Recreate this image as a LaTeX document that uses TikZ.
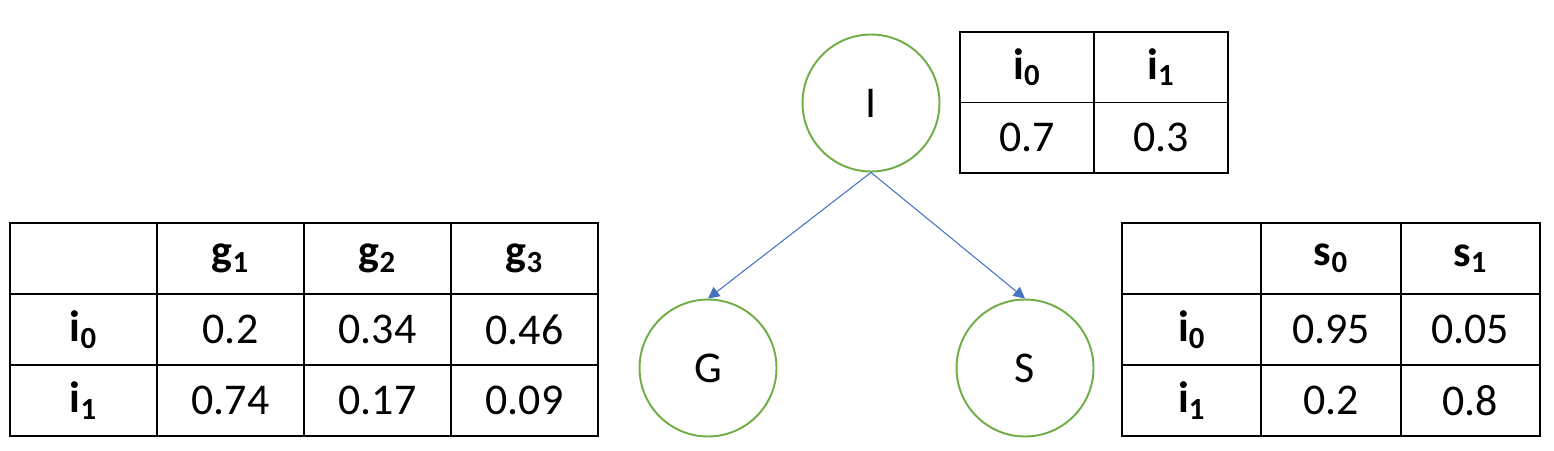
\documentclass[tikz,border=0pt]{standalone}
\usepackage{fontspec}
\setmainfont{Carlito}
\usetikzlibrary{arrows.meta}
\definecolor{nodegreen}{HTML}{70AD47}
\definecolor{edgeblue}{HTML}{4472C4}
\newcommand\BoldSub[2]{\textbf{#1\textsubscript{#2}}}
\tikzset{%
  >={Triangle[length=6.5pt,width=6.5pt]}, % arrow tips
  every node/.style={font=\fontsize{25}{30}\selectfont},%
  var node/.style={circle,draw=nodegreen,line width=1.1pt,
    minimum size=2.74cm,inner sep=0pt},%
  prob cell/.style={draw=black,line width=1.1pt,minimum height=1.42cm,
    inner sep=0pt,outer sep=0pt},%
  edge arrow/.style={->,draw=edgeblue,line width=0.6pt}%
}

\begin{document}
\begin{tikzpicture}[x=0.02cm,y=-0.02cm]

%definitions
\def\wG{2.94} % column width, table of G
\def\wS{2.786} % column width, table of S
\def\wI{2.68} % column width, table of I
\useasboundingbox (0,0) rectangle (1554,450);

%variables
\node[var node] (I) at (871,103) {I};
\node[var node] (G) at (708,368) {G};
\node[var node] (S) at (1025,368) {S};
\draw[edge arrow] (I.south) -- (G.north);
\draw[edge arrow] (I.south) -- (S.north);

%table of I
\foreach \val [count=\c] in {\BoldSub{i}{0},\BoldSub{i}{1}}
  \node[prob cell,minimum width=\wI cm,minimum height=1.41cm] (ti-1-\c) at ({893+134*\c},67.25) {\val};
\foreach \val [count=\c] in {0.7,0.3}
  \node[prob cell,minimum width=\wI cm,minimum height=1.41cm] (ti-2-\c) at ({893+134*\c},137.75) {\val};

%table of G
\foreach \val [count=\c] in {{},\BoldSub{g}{1},\BoldSub{g}{2},\BoldSub{g}{3}}
  \node[prob cell,minimum width=\wG cm] (tg-1-\c) at ({-63.5+147*\c},258.5) {\val};
\foreach \val [count=\c] in {\BoldSub{i}{0},0.2,0.34,0.46}
  \node[prob cell,minimum width=\wG cm] (tg-2-\c) at ({-63.5+147*\c},329.5) {\val};
\foreach \val [count=\c] in {\BoldSub{i}{1},0.74,0.17,0.09}
  \node[prob cell,minimum width=\wG cm] (tg-3-\c) at ({-63.5+147*\c},400.5) {\val};

%table of S
\foreach \val [count=\c] in {{},\BoldSub{s}{0},\BoldSub{s}{1}}
  \node[prob cell,minimum width=\wS cm] (ts-1-\c) at ({1052.35+139.3*\c},258.5) {\val};
\foreach \val [count=\c] in {\BoldSub{i}{0},0.95,0.05}
  \node[prob cell,minimum width=\wS cm] (ts-2-\c) at ({1052.35+139.3*\c},329.5) {\val};
\foreach \val [count=\c] in {\BoldSub{i}{1},0.2,0.8}
  \node[prob cell,minimum width=\wS cm] (ts-3-\c) at ({1052.35+139.3*\c},400.5) {\val};

\end{tikzpicture}
\end{document}
